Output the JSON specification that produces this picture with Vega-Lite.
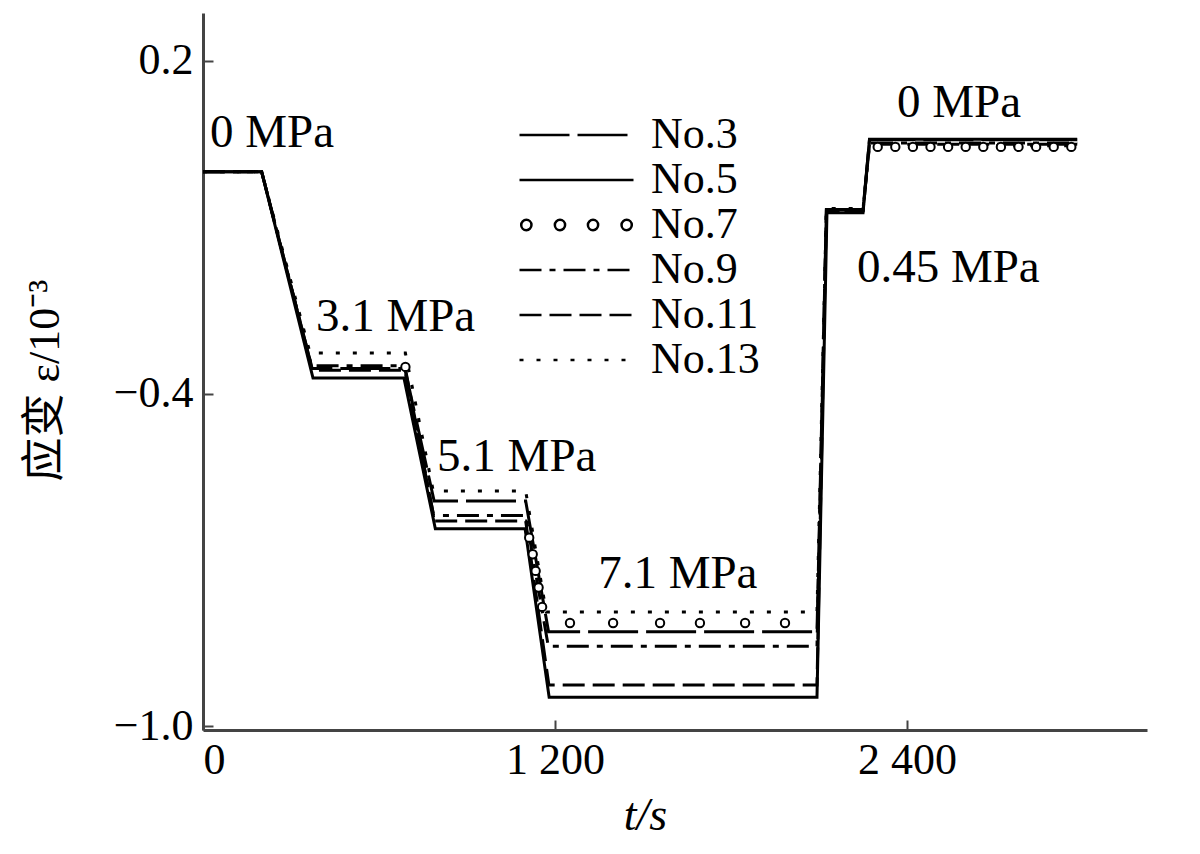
{
  "$schema": "https://vega.github.io/schema/vega-lite/v6.json",
  "width": 944,
  "height": 717,
  "autosize": "none",
  "padding": {"left": 203, "top": 13, "right": 53, "bottom": 124},
  "background": "white",
  "config": {"view": {"stroke": null}, "font": "Liberation Serif"},
  "datasets": {
    "lines": [
      {"series": "No.3", "t": 0, "v": 0}, {"series": "No.3", "t": 200, "v": 0}, {"series": "No.3", "t": 372, "v": -0.355}, {"series": "No.3", "t": 688, "v": -0.355}, {"series": "No.3", "t": 788, "v": -0.594}, {"series": "No.3", "t": 1100, "v": -0.594}, {"series": "No.3", "t": 1178, "v": -0.83}, {"series": "No.3", "t": 2093, "v": -0.83}, {"series": "No.3", "t": 2125, "v": -0.068}, {"series": "No.3", "t": 2250, "v": -0.068}, {"series": "No.3", "t": 2272, "v": 0.058}, {"series": "No.3", "t": 2980, "v": 0.058},
      {"series": "No.5", "t": 0, "v": 0}, {"series": "No.5", "t": 200, "v": 0}, {"series": "No.5", "t": 375, "v": -0.372}, {"series": "No.5", "t": 685, "v": -0.372}, {"series": "No.5", "t": 792, "v": -0.644}, {"series": "No.5", "t": 1098, "v": -0.644}, {"series": "No.5", "t": 1180, "v": -0.948}, {"series": "No.5", "t": 2093, "v": -0.948}, {"series": "No.5", "t": 2127, "v": -0.074}, {"series": "No.5", "t": 2250, "v": -0.074}, {"series": "No.5", "t": 2272, "v": 0.059}, {"series": "No.5", "t": 2980, "v": 0.059},
      {"series": "No.9", "t": 0, "v": 0}, {"series": "No.9", "t": 200, "v": 0}, {"series": "No.9", "t": 370, "v": -0.35}, {"series": "No.9", "t": 688, "v": -0.35}, {"series": "No.9", "t": 786, "v": -0.62}, {"series": "No.9", "t": 1100, "v": -0.62}, {"series": "No.9", "t": 1177, "v": -0.856}, {"series": "No.9", "t": 2093, "v": -0.856}, {"series": "No.9", "t": 2125, "v": -0.07}, {"series": "No.9", "t": 2250, "v": -0.07}, {"series": "No.9", "t": 2272, "v": 0.052}, {"series": "No.9", "t": 2980, "v": 0.052},
      {"series": "No.11", "t": 0, "v": 0}, {"series": "No.11", "t": 200, "v": 0}, {"series": "No.11", "t": 373, "v": -0.358}, {"series": "No.11", "t": 688, "v": -0.358}, {"series": "No.11", "t": 790, "v": -0.63}, {"series": "No.11", "t": 1100, "v": -0.63}, {"series": "No.11", "t": 1179, "v": -0.926}, {"series": "No.11", "t": 2093, "v": -0.926}, {"series": "No.11", "t": 2125, "v": -0.07}, {"series": "No.11", "t": 2250, "v": -0.07}, {"series": "No.11", "t": 2272, "v": 0.05}, {"series": "No.11", "t": 2980, "v": 0.05},
      {"series": "No.13", "t": 0, "v": 0}, {"series": "No.13", "t": 200, "v": 0}, {"series": "No.13", "t": 365, "v": -0.327}, {"series": "No.13", "t": 690, "v": -0.327}, {"series": "No.13", "t": 785, "v": -0.576}, {"series": "No.13", "t": 1100, "v": -0.576}, {"series": "No.13", "t": 1170, "v": -0.794}, {"series": "No.13", "t": 2093, "v": -0.794}, {"series": "No.13", "t": 2125, "v": -0.066}, {"series": "No.13", "t": 2250, "v": -0.066}, {"series": "No.13", "t": 2272, "v": 0.047}, {"series": "No.13", "t": 2980, "v": 0.047}
    ],
    "circles": [
      {"series": "No.7", "t": 690, "v": -0.352},
      {"series": "No.7", "t": 1112, "v": -0.66}, {"series": "No.7", "t": 1124, "v": -0.69}, {"series": "No.7", "t": 1134, "v": -0.72}, {"series": "No.7", "t": 1144, "v": -0.75}, {"series": "No.7", "t": 1156, "v": -0.785},
      {"series": "No.7", "t": 1251, "v": -0.814}, {"series": "No.7", "t": 1398, "v": -0.814}, {"series": "No.7", "t": 1558, "v": -0.814}, {"series": "No.7", "t": 1694, "v": -0.814}, {"series": "No.7", "t": 1848, "v": -0.814}, {"series": "No.7", "t": 1984, "v": -0.814},
      {"series": "No.7", "t": 2300, "v": 0.045}, {"series": "No.7", "t": 2360, "v": 0.045}, {"series": "No.7", "t": 2420, "v": 0.045}, {"series": "No.7", "t": 2480, "v": 0.045}, {"series": "No.7", "t": 2540, "v": 0.045}, {"series": "No.7", "t": 2600, "v": 0.045}, {"series": "No.7", "t": 2660, "v": 0.045}, {"series": "No.7", "t": 2720, "v": 0.045}, {"series": "No.7", "t": 2780, "v": 0.045}, {"series": "No.7", "t": 2840, "v": 0.045}, {"series": "No.7", "t": 2900, "v": 0.045}, {"series": "No.7", "t": 2960, "v": 0.045}
    ],
    "notes": [
      {"label": "0 MPa", "t": 24, "v": 0.07},
      {"label": "3.1 MPa", "t": 385, "v": -0.262},
      {"label": "5.1 MPa", "t": 798, "v": -0.515},
      {"label": "7.1 MPa", "t": 1347, "v": -0.726},
      {"label": "0 MPa", "t": 2366, "v": 0.124},
      {"label": "0.45 MPa", "t": 2229, "v": -0.173}
    ]
  },
  "layer": [
    {
      "data": {"name": "lines"},
      "mark": {"type": "line", "color": "black", "strokeWidth": 3},
      "encoding": {
        "x": {
          "field": "t", "type": "quantitative",
          "scale": {"domain": [0, 3218], "nice": false, "zero": false},
          "axis": {
            "values": [0, 1200, 2400],
            "labelExpr": "datum.value == 0 ? '0' : replace(format(datum.value, ','), ',', ' ')",
            "grid": false, "tickSize": -10, "tickWidth": 2, "tickColor": "#444",
            "domainColor": "#444", "domainWidth": 3,
            "labelFont": "Liberation Serif", "labelFontSize": 44, "labelColor": "black", "labelPadding": 18,
            "title": "t/s", "titleFont": "Liberation Serif", "titleFontSize": 46, "titleFontWeight": "normal", "titleFontStyle": "italic", "titleColor": "black",
            "titleX": 442, "titleY": 85, "titleAlign": "center", "titleBaseline": "middle"
          }
        },
        "y": {
          "field": "v", "type": "quantitative",
          "scale": {"domain": [-1.0071, 0.2866], "nice": false, "zero": false},
          "axis": {
            "values": [0.2, -0.4, -1.0], "format": ".1f",
            "grid": false, "tickSize": -10, "tickWidth": 2, "tickColor": "#444",
            "domainColor": "#444", "domainWidth": 3,
            "labelFont": "Liberation Serif", "labelFontSize": 44, "labelColor": "black", "labelPadding": 20,
            "title": "应变 ε/10⁻³", "titleFont": "Liberation Serif, Noto Sans CJK SC", "titleFontSize": 44, "titleFontWeight": "normal", "titleColor": "black",
            "titleAngle": -90, "titleX": -158, "titleY": 367, "titleAlign": "center", "titleBaseline": "middle"
          }
        },
        "detail": {"field": "series"},
        "strokeDash": {
          "field": "series", "type": "nominal",
          "scale": {
            "domain": ["No.3", "No.5", "No.7", "No.9", "No.11", "No.13"],
            "range": [[50, 8], [100, 0], [100, 0], [22, 8, 6, 8], [22, 8], [4, 13]]
          },
          "legend": {
            "orient": "none", "legendX": 315, "legendY": 100, "title": null, "padding": 0,
            "labelFont": "Liberation Serif", "labelFontSize": 44, "labelColor": "black", "labelBaseline": "middle",
            "symbolType": "stroke", "symbolSize": 12996, "symbolStrokeWidth": 2.5, "symbolStrokeColor": "black",
            "clipHeight": 44, "rowPadding": 1, "labelOffset": 16,
            "encode": {
              "symbols": {
                "update": {
                  "fill": {"value": "transparent"},
                  "stroke": {"value": "black"},
                  "shape": {"signal": "datum.value === 'No.7' ? 'M -0.79,0 A 0.09,0.09 0 1,1 -0.97,0 A 0.09,0.09 0 1,1 -0.79,0 Z M -0.2,0 A 0.09,0.09 0 1,1 -0.38,0 A 0.09,0.09 0 1,1 -0.2,0 Z M 0.38,0 A 0.09,0.09 0 1,1 0.2,0 A 0.09,0.09 0 1,1 0.38,0 Z M 0.97,0 A 0.09,0.09 0 1,1 0.79,0 A 0.09,0.09 0 1,1 0.97,0 Z' : 'stroke'"}
                }
              }
            }
          }
        }
      }
    },
    {
      "data": {"name": "circles"},
      "mark": {"type": "point", "shape": "circle", "filled": true, "fill": "white", "stroke": "black", "strokeWidth": 2, "size": 70, "opacity": 1},
      "encoding": {
        "x": {"field": "t", "type": "quantitative"},
        "y": {"field": "v", "type": "quantitative"}
      }
    },
    {
      "data": {"name": "notes"},
      "mark": {"type": "text", "align": "left", "baseline": "middle", "font": "Liberation Serif", "fontSize": 47, "color": "black"},
      "encoding": {
        "x": {"field": "t", "type": "quantitative"},
        "y": {"field": "v", "type": "quantitative"},
        "text": {"field": "label"}
      }
    }
  ]
}
